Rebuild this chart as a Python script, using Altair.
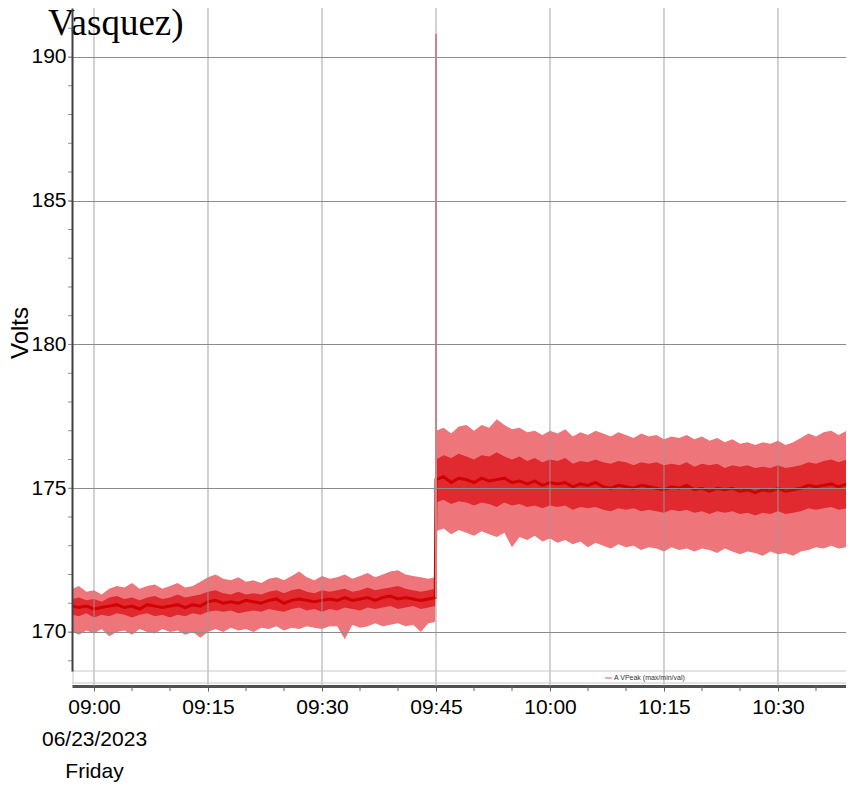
import altair as alt
import pandas as pd

# ---------------- text ----------------
TITLE_FRAGMENT = "Vasquez)"
Y_TITLE = "Volts"
LEGEND_LABEL = "A VPeak (max/min/val)"
DATE_LINES = ["06/23/2023", "Friday"]

# ---------------- axes ----------------
X_TICK_MINUTES = [0, 15, 30, 45, 60, 75, 90]          # minutes after 09:00
X_TICK_LABELS = ["09:00", "09:15", "09:30", "09:45", "10:00", "10:15", "10:30"]
X_MINOR_MINUTES = [5, 10, 20, 25, 35, 40, 50, 55, 65, 70, 80, 85, 95]
Y_TICKS = [170, 175, 180, 185, 190]
Y_MINOR = list(range(169, 192))

# ---------------- data (minutes after 09:00, volts) ----------------
seg1_t = [-2.8, -2, -1] + list(range(0, 45)) + [44.9]
seg1_max = [171.5, 171.6, 171.4, 171.45, 171.3, 171.5, 171.6, 171.55, 171.7, 171.5,
            171.6, 171.65, 171.5, 171.6, 171.7, 171.55, 171.6, 171.75, 171.9, 172.0,
            171.85, 171.8, 171.9, 171.75, 171.8, 171.7, 171.85, 171.9, 171.8, 171.95,
            172.1, 171.9, 171.8, 171.95, 171.85, 171.9, 172.0, 171.85, 171.95, 172.05,
            171.9, 172.0, 172.1, 172.15, 172.0, 171.95, 171.9, 171.85, 171.9]
seg1_min = [170.0, 169.9, 170.05, 169.95, 170.1, 169.85, 170.0, 170.05, 169.9, 170.1,
            170.0, 169.95, 170.1, 170.0, 170.05, 169.9, 170.0, 169.8, 170.0, 170.1,
            170.0, 170.15, 170.05, 170.1, 170.0, 170.15, 170.1, 170.2, 170.05, 170.15,
            170.1, 170.2, 170.15, 170.1, 170.2, 170.2, 169.75, 170.25, 170.15, 170.2,
            170.3, 170.2, 170.25, 170.3, 170.2, 170.25, 170.0, 170.3, 170.35]
seg1_core_hi = [171.15, 171.2, 171.1, 171.15, 171.05, 171.2, 171.25, 171.15, 171.2, 171.1,
                171.2, 171.25, 171.15, 171.2, 171.3, 171.2, 171.25, 171.3, 171.4, 171.45,
                171.35, 171.3, 171.4, 171.3, 171.35, 171.3, 171.4, 171.45, 171.35, 171.45,
                171.5, 171.4, 171.35, 171.45, 171.4, 171.45, 171.5, 171.4, 171.45, 171.55,
                171.45, 171.5, 171.55, 171.6, 171.5, 171.45, 171.4, 171.45, 171.5]
seg1_core_lo = [170.6, 170.55, 170.65, 170.5, 170.6, 170.55, 170.65, 170.6, 170.5, 170.6,
                170.65, 170.55, 170.6, 170.5, 170.6, 170.55, 170.65, 170.6, 170.7, 170.75,
                170.7, 170.75, 170.65, 170.7, 170.75, 170.7, 170.8, 170.75, 170.7, 170.8,
                170.85, 170.75, 170.8, 170.7, 170.8, 170.75, 170.85, 170.8, 170.75, 170.85,
                170.8, 170.85, 170.9, 170.8, 170.85, 170.9, 170.8, 170.85, 170.9]
seg1_val = [170.9, 170.85, 170.9, 170.8, 170.85, 170.9, 170.95, 170.85, 170.9, 170.8,
            170.95, 170.9, 170.85, 170.9, 170.95, 170.85, 170.95, 170.9, 171.05, 171.1,
            171.0, 171.05, 171.0, 171.1, 171.05, 171.0, 171.1, 171.15, 171.0, 171.1,
            171.15, 171.1, 171.05, 171.1, 171.15, 171.1, 171.2, 171.1, 171.15, 171.2,
            171.1, 171.2, 171.25, 171.15, 171.2, 171.15, 171.1, 171.15, 171.2]

seg2_t = list(range(45, 100)) + [99.9]
seg2_max = [177.0, 177.1, 176.9, 177.15, 177.2, 177.0, 177.2, 177.1, 177.4, 177.2,
            177.05, 177.1, 176.95, 177.0, 176.85, 177.0, 176.9, 177.05, 176.8, 176.95,
            176.85, 177.0, 176.9, 176.8, 176.95, 176.85, 176.75, 176.9, 176.8, 176.85,
            176.7, 176.8, 176.75, 176.85, 176.7, 176.8, 176.65, 176.75, 176.6, 176.7,
            176.55, 176.6, 176.5, 176.6, 176.55, 176.65, 176.5, 176.6, 176.75, 176.9,
            176.8, 176.95, 177.0, 176.85, 177.0, 176.9]
seg2_min = [173.5, 173.6, 173.4, 173.55, 173.45, 173.35, 173.5, 173.4, 173.3, 173.45,
            172.95, 173.3, 173.2, 173.35, 173.15, 173.25, 173.1, 173.2, 173.05, 173.15,
            172.95, 173.1, 173.0, 172.9, 173.05, 172.95, 173.0, 172.85, 172.95, 172.9,
            172.8, 172.95, 172.85, 172.9, 172.8, 172.9, 172.85, 172.75, 172.9, 172.8,
            172.7, 172.8, 172.75, 172.65, 172.8, 172.7, 172.75, 172.65, 172.8, 172.85,
            172.95, 172.9, 173.0, 172.9, 172.95, 172.9]
seg2_core_hi = [176.0, 176.15, 176.05, 176.2, 176.1, 176.0, 176.15, 176.1, 176.25, 176.1,
                176.0, 176.1, 175.95, 176.05, 175.9, 176.0, 175.95, 176.05, 175.85, 175.95,
                175.9, 176.0, 175.9, 175.85, 175.95, 175.9, 175.8, 175.9, 175.85, 175.9,
                175.8, 175.85, 175.8, 175.9, 175.75, 175.85, 175.8, 175.85, 175.7, 175.8,
                175.75, 175.8, 175.7, 175.75, 175.7, 175.8, 175.7, 175.75, 175.8, 175.9,
                175.85, 175.95, 176.0, 175.9, 176.0, 175.95]
seg2_core_lo = [174.5, 174.6, 174.45, 174.55, 174.5, 174.4, 174.5, 174.45, 174.35, 174.5,
                174.4, 174.45, 174.35, 174.4, 174.3, 174.4, 174.35, 174.4, 174.25, 174.35,
                174.3, 174.35, 174.25, 174.2, 174.3, 174.25, 174.3, 174.2, 174.25, 174.2,
                174.15, 174.25, 174.2, 174.25, 174.15, 174.2, 174.1, 174.2, 174.15, 174.2,
                174.1, 174.15, 174.05, 174.15, 174.1, 174.2, 174.1, 174.15, 174.2, 174.3,
                174.25, 174.3, 174.35, 174.25, 174.3, 174.3]
seg2_val = [175.3, 175.4, 175.2, 175.35, 175.3, 175.2, 175.35, 175.25, 175.3, 175.35,
            175.2, 175.25, 175.15, 175.25, 175.1, 175.2, 175.15, 175.2, 175.05, 175.15,
            175.1, 175.2, 175.05, 175.0, 175.1, 175.05, 175.0, 175.1, 175.05, 175.0,
            174.95, 175.05, 175.0, 175.1, 174.95, 175.0, 174.9, 175.0, 174.95, 175.0,
            174.9, 174.95, 174.85, 174.95, 174.9, 175.0, 174.9, 174.95, 175.0, 175.1,
            175.05, 175.1, 175.15, 175.05, 175.15, 175.1]

SPIKE_T = [45.0]
SPIKE_LO = [171.2]
SPIKE_HI = [190.8]

# ---------------- tables ----------------
df = pd.DataFrame({
    "t": seg1_t + seg2_t,
    "vmax": seg1_max + seg2_max,
    "vmin": seg1_min + seg2_min,
    "hi": seg1_core_hi + seg2_core_hi,
    "lo": seg1_core_lo + seg2_core_lo,
    "val": seg1_val + seg2_val,
})
spike = pd.DataFrame({"t": SPIKE_T, "lo": SPIKE_LO, "hi": SPIKE_HI})
xmajor = pd.DataFrame({"t": X_TICK_MINUTES})
xminor = pd.DataFrame({"t": X_MINOR_MINUTES})
yminor = pd.DataFrame({"v": Y_MINOR})
one = pd.DataFrame({"a": [0]})

W, H = 774, 663
XS = alt.Scale(domain=[-2.895, 98.95], nice=False, zero=False)
YS = alt.Scale(domain=[168.643, 191.704], nice=False, zero=False)

SANS = "Liberation Sans"

expr = "''"
for m, lab in reversed(list(zip(X_TICK_MINUTES, X_TICK_LABELS))):
    if m == 0:
        lab_js = "[" + ", ".join("'" + s + "'" for s in [lab] + DATE_LINES) + "]"
    else:
        lab_js = "'" + lab + "'"
    expr = f"datum.value == {m} ? {lab_js} : ({expr})"

x_axis = alt.Axis(values=X_TICK_MINUTES, labelExpr=expr, grid=False, offset=15,
                  domainColor="#505050", domainWidth=3, tickColor="#606060",
                  tickSize=5, tickWidth=1, labelFont=SANS, labelFontSize=21,
                  labelColor="#000000", labelPadding=5, labelLineHeight=32,
                  labelOverlap=False, labelBound=False, labelFlush=False, title=None)
y_axis = alt.Axis(values=Y_TICKS, grid=True, gridColor="#8c8c8c", gridWidth=1,
                  domainColor="#404040", domainWidth=2, tickColor="#8c8c8c",
                  tickSize=4, labelFont=SANS, labelFontSize=21, labelColor="#000000",
                  labelPadding=2, title=None, zindex=1)

outer = alt.Chart(df).mark_area(color="#ee767a", opacity=1, clip=True).encode(
    x=alt.X("t:Q", scale=XS, axis=x_axis),
    y=alt.Y("vmin:Q", scale=YS, axis=y_axis),
    y2="vmax:Q",
)
core = alt.Chart(df).mark_area(color="#e02a2f", clip=True).encode(
    x=alt.X("t:Q", scale=XS), y=alt.Y("lo:Q", scale=YS), y2="hi:Q")
val_line = alt.Chart(df).mark_line(color="#d20000", strokeWidth=3, clip=True).encode(
    x=alt.X("t:Q", scale=XS), y=alt.Y("val:Q", scale=YS))

spike_rule = alt.Chart(spike).mark_rule(color="#e8767a", strokeWidth=2).encode(
    x=alt.X("t:Q", scale=XS), y=alt.Y("lo:Q", scale=YS), y2="hi:Q")

xgrid = alt.Chart(xmajor).mark_rule(color="#9a9a9a", strokeWidth=1, opacity=0.9).encode(
    x=alt.X("t:Q", scale=XS), y=alt.value(0), y2=alt.value(H + 15))
xminor_ticks = alt.Chart(xminor).mark_rule(color="#606060", strokeWidth=1).encode(
    x=alt.X("t:Q", scale=XS), y=alt.value(H + 15), y2=alt.value(H + 20))
yminor_ticks = alt.Chart(yminor).mark_rule(color="#8c8c8c", strokeWidth=1).encode(
    y=alt.Y("v:Q", scale=YS), x=alt.value(-4), x2=alt.value(0))

strip_top = alt.Chart(one).mark_rule(color="#c8c8c8", strokeWidth=1).encode(
    x=alt.value(0), x2=alt.value(W), y=alt.value(H))
strip_bot = alt.Chart(one).mark_rule(color="#c8c8c8", strokeWidth=1).encode(
    x=alt.value(0), x2=alt.value(W), y=alt.value(H + 12))
strip_left = alt.Chart(one).mark_rule(color="#c8c8c8", strokeWidth=1).encode(
    x=alt.value(1), y=alt.value(H), y2=alt.value(H + 12))

legend_line = alt.Chart(one).mark_rule(color="#e8545a", strokeWidth=1).encode(
    x=alt.value(533), x2=alt.value(540), y=alt.value(H + 7))
legend_text = alt.Chart(one).mark_text(
    text=LEGEND_LABEL, font=SANS, fontSize=7, color="#333333",
    align="left", baseline="middle").encode(x=alt.value(542), y=alt.value(H + 7))

title_text = alt.Chart(one).mark_text(
    text=TITLE_FRAGMENT, font="Liberation Serif", fontSize=37, color="#000000",
    align="left", baseline="alphabetic").encode(x=alt.value(-24), y=alt.value(27))
ytitle_text = alt.Chart(one).mark_text(
    text=Y_TITLE, font=SANS, fontSize=24, color="#000000",
    align="center", baseline="middle", angle=270).encode(x=alt.value(-51), y=alt.value(325))

chart = alt.layer(
    outer, core, val_line, spike_rule, xgrid, xminor_ticks, yminor_ticks,
    strip_top, strip_bot, strip_left, legend_line, legend_text, title_text, ytitle_text,
).properties(
    width=W, height=H,
    autosize=alt.AutoSizeParams(type="none"),
    padding={"left": 64, "top": 0, "right": 0, "bottom": 113},
    background="#ffffff",
).configure_view(stroke=None)

chart.save("out.html", embed_options={"renderer": "svg", "actions": False})
